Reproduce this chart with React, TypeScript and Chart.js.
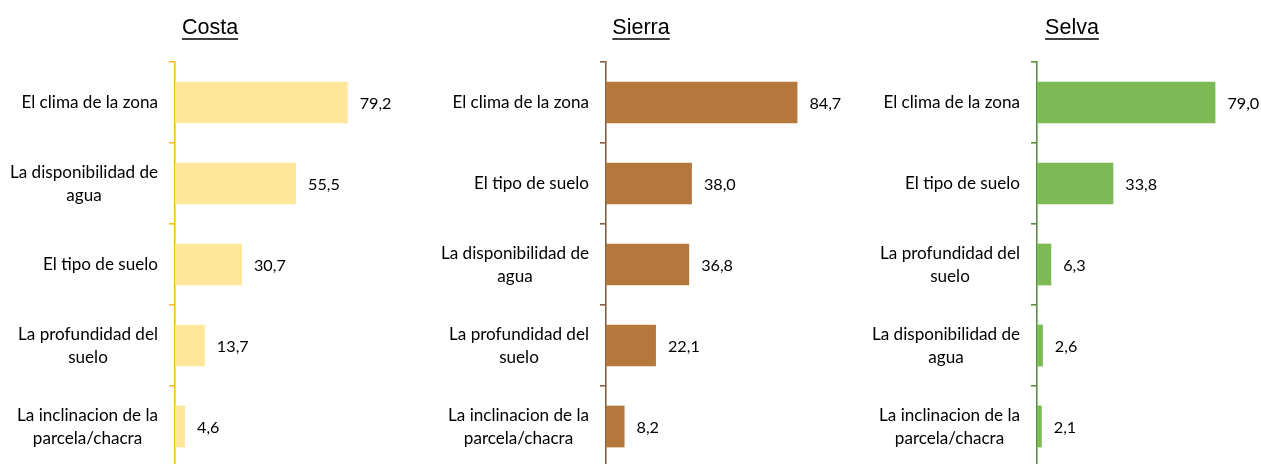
import React, { useEffect, useRef } from "react";
import { Chart, registerables } from "chart.js";

Chart.register(...registerables);

const costaLabels = [
  ["El clima de la zona"],
  ["La disponibilidad de", "agua"],
  ["El tipo de suelo"],
  ["La profundidad del", "suelo"],
  ["La inclinacion de la", "parcela/chacra"],
];
const costaValues = [79.2, 55.5, 30.7, 13.7, 4.6];

const sierraLabels = [
  ["El clima de la zona"],
  ["El tipo de suelo"],
  ["La disponibilidad de", "agua"],
  ["La profundidad del", "suelo"],
  ["La inclinacion de la", "parcela/chacra"],
];
const sierraValues = [84.7, 38.0, 36.8, 22.1, 8.2];

const selvaLabels = [
  ["El clima de la zona"],
  ["El tipo de suelo"],
  ["La profundidad del", "suelo"],
  ["La disponibilidad de", "agua"],
  ["La inclinacion de la", "parcela/chacra"],
];
const selvaValues = [79.0, 33.8, 6.3, 2.6, 2.1];

const panelTitles = ["Costa", "Sierra", "Selva"];

const LABEL_FONT = "17.1px Lato";
const VALUE_FONT = "16.2px Lato";
const TITLE_FONT = "21.5px 'Liberation Sans', Arial";

type Panel = {
  title: string;
  labels: string[][];
  values: number[];
  left: number;
  areaRight: number;
  axisW: number;
  max: number;
  bar: string;
  axis: string;
};

const CANVAS_W = 421;

const panels: Panel[] = [
  { title: panelTitles[0], labels: costaLabels, values: costaValues, left: 0, areaRight: 393, axisW: 175, max: 100, bar: "#FFE699", axis: "#F2C01E" },
  { title: panelTitles[1], labels: sierraLabels, values: sierraValues, left: 420, areaRight: 832, axisW: 186, max: 100, bar: "#B4783D", axis: "#84603F" },
  { title: panelTitles[2], labels: selvaLabels, values: selvaValues, left: 840, areaRight: 1261, axisW: 197, max: 99.2, bar: "#7DBA55", axis: "#5B8E3E" },
];

const panelPlugin = {
  id: "panelText",
  afterDraw(chart: any, _args: any, opts: any) {
    const ctx = chart.ctx;
    const area = chart.chartArea;
    const yScale = chart.scales.y;
    const xScale = chart.scales.x;
    ctx.save();
    // title
    ctx.font = TITLE_FONT;
    ctx.fillStyle = "#000";
    ctx.textAlign = "center";
    ctx.textBaseline = "alphabetic";
    const tx = area.left + 35;
    const ty = 34;
    ctx.fillText(opts.title, tx, ty);
    const tw = ctx.measureText(opts.title).width;
    ctx.strokeStyle = "#000";
    ctx.lineWidth = 1.5;
    ctx.beginPath();
    ctx.moveTo(tx - tw / 2, ty + 5);
    ctx.lineTo(tx + tw / 2, ty + 5);
    ctx.stroke();

    // category labels
    ctx.font = LABEL_FONT;
    ctx.textBaseline = "middle";
    const labels = chart.data.labels as string[][];
    const rightEdge = area.left - 17;
    labels.forEach((lines, i) => {
      const y = yScale.getPixelForValue(i);
      const widest = Math.max(...lines.map((l) => ctx.measureText(l).width));
      const cx = rightEdge - widest / 2;
      const lh = 23;
      const start = y - ((lines.length - 1) * lh) / 2;
      lines.forEach((l, j) => ctx.fillText(l, cx, start + j * lh));
    });

    // value labels
    ctx.font = VALUE_FONT;
    ctx.textAlign = "left";
    const vals = chart.data.datasets[0].data as number[];
    vals.forEach((v, i) => {
      const x = xScale.getPixelForValue(v);
      const y = yScale.getPixelForValue(i);
      ctx.fillText(v.toFixed(1).replace(".", ","), x + 12, y + 1);
    });
    ctx.restore();
  },
};

function PanelChart({ p }: { p: Panel }) {
  const ref = useRef<HTMLCanvasElement | null>(null);
  useEffect(() => {
    if (!ref.current) return;
    const padRight = p.left + CANVAS_W - p.areaRight;
    const chart = new Chart(ref.current, {
      type: "bar",
      data: {
        labels: p.labels as any,
        datasets: [
          {
            data: p.values,
            backgroundColor: p.bar,
            borderWidth: 0,
            barPercentage: 0.515,
            categoryPercentage: 1,
          },
        ],
      },
      options: {
        indexAxis: "y",
        animation: false,
        responsive: false,
        layout: { padding: { top: 62, left: 0, right: padRight, bottom: 0 } },
        plugins: {
          legend: { display: false },
          tooltip: { enabled: false },
          title: { display: false },
          panelText: { title: p.title },
        } as any,
        scales: {
          x: { display: false, min: 0, max: p.max },
          y: {
            position: "left",
            offset: true,
            border: { display: true, color: p.axis, width: 1.6 },
            grid: {
              display: true,
              offset: true,
              drawOnChartArea: false,
              drawTicks: true,
              tickLength: 6,
              color: p.axis,
              lineWidth: 1.6,
            },
            ticks: { display: false },
            afterFit: (scale: any) => {
              scale.width = p.axisW;
            },
          },
        },
      },
      plugins: [panelPlugin],
    });
    return () => chart.destroy();
  }, [p]);
  return (
    <canvas
      ref={ref}
      width={CANVAS_W}
      height={467}
      style={{ position: "absolute", left: p.left, top: 0, width: CANVAS_W, height: 467 }}
    />
  );
}

export default function App() {
  return (
    <div
      style={{
        position: "fixed",
        left: 0,
        top: 0,
        width: 1261,
        height: 464,
        overflow: "hidden",
        background: "#fff",
      }}
    >
      {panels.map((p) => (
        <PanelChart key={p.title} p={p} />
      ))}
    </div>
  );
}
